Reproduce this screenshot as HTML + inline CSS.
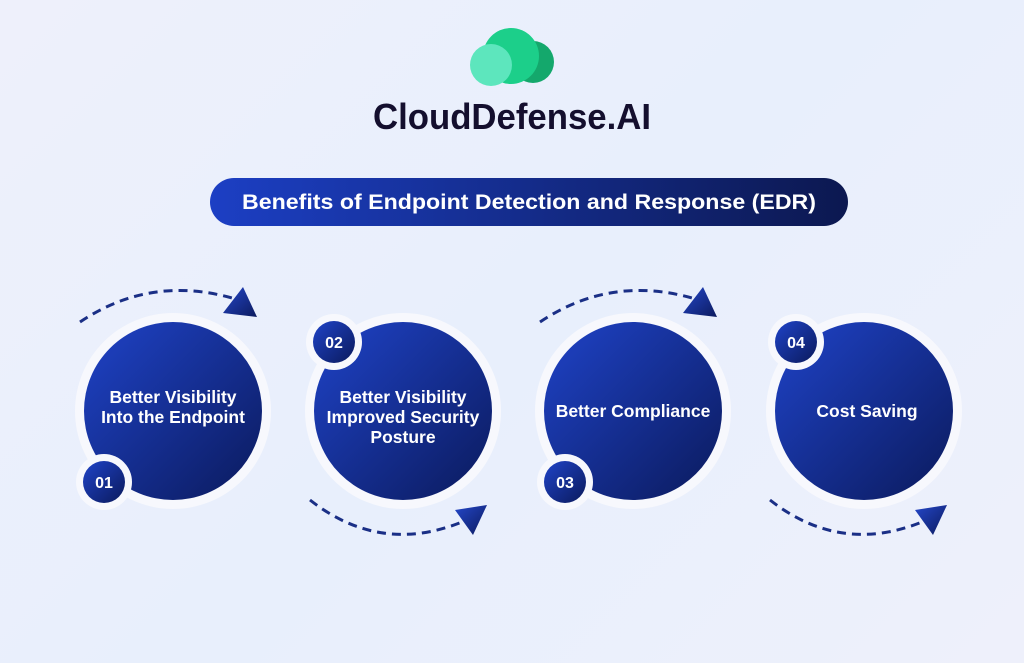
<!DOCTYPE html>
<html><head><meta charset="utf-8"><style>
html,body{margin:0;padding:0;width:1024px;height:663px;overflow:hidden}
body{background:linear-gradient(135deg,#eef0fb 0%,#e8effc 50%,#eef0fb 100%);font-family:"Liberation Sans",sans-serif}
</style></head><body>
<svg width="1024" height="663" viewBox="0 0 1024 663" xmlns="http://www.w3.org/2000/svg">
<defs>
<linearGradient id="bg" x1="0" y1="0" x2="1" y2="1">
<stop offset="0" stop-color="#1f43c8"/><stop offset="1" stop-color="#0b1a5c"/></linearGradient>
<linearGradient id="pill" x1="0" y1="0" x2="1" y2="0">
<stop offset="0" stop-color="#1c3fc4"/><stop offset="1" stop-color="#0c1850"/></linearGradient>
<linearGradient id="tri" x1="0" y1="0" x2="1" y2="1">
<stop offset="0" stop-color="#2447c9"/><stop offset="1" stop-color="#0c1a5e"/></linearGradient>
</defs>
<circle cx="533" cy="62" r="21" fill="#14a86c"/>
<circle cx="511" cy="56" r="28" fill="#1ccf8a"/>
<circle cx="491" cy="65" r="21" fill="#5de6bd"/>
<text x="512" y="129" text-anchor="middle" font-size="36" font-weight="bold" fill="#140f2e" textLength="278" lengthAdjust="spacingAndGlyphs">CloudDefense.AI</text>
<rect x="210" y="178" width="638" height="48" rx="24" fill="url(#pill)"/>
<text x="529" y="209" text-anchor="middle" font-size="21" font-weight="bold" fill="#fff" textLength="574" lengthAdjust="spacingAndGlyphs">Benefits of Endpoint Detection and Response (EDR)</text>
<g fill="none" stroke="#1a2f86" stroke-width="3" stroke-dasharray="9,6">
<path d="M80 322 Q150 275 232 298"/>
<path d="M540 322 Q610 275 692 298"/>
<path d="M310 500 Q380 555 462 522"/>
<path d="M770 500 Q840 555 922 522"/>
</g>
<g fill="url(#tri)">
<polygon points="243,287 223,313 257,317"/>
<polygon points="703,287 683,313 717,317"/>
<polygon points="455,510 487,505 473,535"/>
<polygon points="915,510 947,505 933,535"/>
</g>
<g fill="#f7f8fd">
<circle cx="173" cy="411" r="98"/><circle cx="403" cy="411" r="98"/>
<circle cx="633" cy="411" r="98"/><circle cx="864" cy="411" r="98"/>
</g>
<g fill="url(#bg)">
<circle cx="173" cy="411" r="89"/><circle cx="403" cy="411" r="89"/>
<circle cx="633" cy="411" r="89"/><circle cx="864" cy="411" r="89"/>
</g>
<g fill="#f7f8fd">
<circle cx="104" cy="482" r="28"/><circle cx="334" cy="342" r="28"/>
<circle cx="565" cy="482" r="28"/><circle cx="796" cy="342" r="28"/>
</g>
<g fill="url(#bg)">
<circle cx="104" cy="482" r="21"/><circle cx="334" cy="342" r="21"/>
<circle cx="565" cy="482" r="21"/><circle cx="796" cy="342" r="21"/>
</g>
<g fill="#fff" font-size="16" font-weight="bold" text-anchor="middle">
<text x="104" y="488">01</text><text x="334" y="348">02</text>
<text x="565" y="488">03</text><text x="796" y="348">04</text>
</g>
<g fill="#fff" font-size="17.5" font-weight="bold" text-anchor="middle">
<text x="173" y="403">Better Visibility</text>
<text x="173" y="423">Into the Endpoint</text>
<text x="403" y="403">Better Visibility</text>
<text x="403" y="423">Improved Security</text>
<text x="403" y="443">Posture</text>
<text x="633" y="417">Better Compliance</text>
<text x="867" y="417">Cost Saving</text>
</g>
</svg>
</body></html>
